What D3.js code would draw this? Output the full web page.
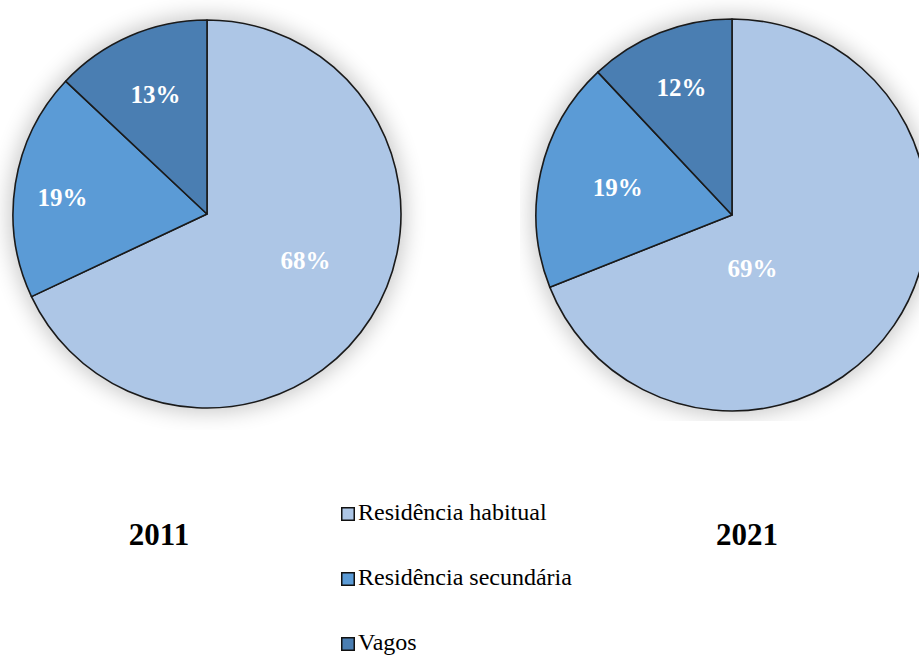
<!DOCTYPE html>
<html>
<head>
<meta charset="utf-8">
<script src="https://cdn.jsdelivr.net/npm/d3@7"></script>
<style>
  html, body { margin: 0; padding: 0; background: #ffffff; }
  svg { display: block; }
</style>
</head>
<body>
<svg id="chart" width="919" height="657"></svg>
<script>
// Dwelling types (share of dwellings, %)
const categories = ["Residência habitual", "Residência secundária", "Vagos"];
const years = ["2011", "2021"];
const values2011 = [68, 19, 13];
const values2021 = [69, 19, 12];
const colors = ["#adc6e6", "#5b9bd6", "#4a7eb2"];

const serif = '"Liberation Serif", "Times New Roman", serif';

const svg = d3.select("#chart");
const defs = svg.append("defs");

const glow = defs.append("filter").attr("id", "glow")
  .attr("x", "-30%").attr("y", "-30%").attr("width", "160%").attr("height", "160%");
glow.append("feGaussianBlur").attr("stdDeviation", 11);

// Layout of each pie panel; labelSpots = [position within slice, radius fraction]
const panels = [
  { year: years[0], values: values2011, cx: 207, cy: 214, r: 194,
    clip: [0, 0, 436, 430], titleX: 159,
    labelSpots: [[0.47, 0.56], [0.466, 0.75], [0.5, 0.67]] },
  { year: years[1], values: values2021, cx: 732, cy: 215, r: 196,
    clip: [520, 0, 399, 421], titleX: 747,
    labelSpots: [[0.64, 0.29], [0.516, 0.6], [0.5, 0.7]] }
];

const pie = d3.pie().sort(null).value(d => d);

panels.forEach((p, i) => {
  const clipId = "clip" + i;
  defs.append("clipPath").attr("id", clipId)
    .append("rect")
    .attr("x", p.clip[0]).attr("y", p.clip[1])
    .attr("width", p.clip[2]).attr("height", p.clip[3]);

  // soft halo behind the pie
  svg.append("g").attr("clip-path", `url(#${clipId})`)
    .append("circle")
    .attr("cx", p.cx).attr("cy", p.cy).attr("r", p.r + 4)
    .attr("fill", "#000").attr("opacity", 0.22)
    .attr("filter", "url(#glow)");

  const g = svg.append("g").attr("transform", `translate(${p.cx},${p.cy})`);
  const arc = d3.arc().innerRadius(0).outerRadius(p.r);
  const arcs = pie(p.values);

  g.selectAll("path").data(arcs).join("path")
    .attr("d", arc)
    .attr("fill", (d, j) => colors[j])
    .attr("stroke", "#1a1a1a")
    .attr("stroke-width", 1.6)
    .attr("stroke-linejoin", "round");

  g.selectAll("text").data(arcs).join("text")
    .attr("transform", (d, j) => {
      const [frac, rad] = p.labelSpots[j];
      const a = d.startAngle + (d.endAngle - d.startAngle) * frac;
      const rr = rad * p.r;
      return `translate(${Math.sin(a) * rr},${-Math.cos(a) * rr})`;
    })
    .attr("text-anchor", "middle")
    .attr("dy", "0.35em")
    .attr("fill", "#ffffff")
    .style("font-family", serif)
    .style("font-weight", "bold")
    .style("font-size", "25px")
    .text(d => d.data + "%");

  svg.append("text")
    .attr("x", p.titleX).attr("y", 545)
    .attr("text-anchor", "middle")
    .style("font-family", serif)
    .style("font-weight", "bold")
    .style("font-size", "31px")
    .attr("fill", "#000")
    .text(p.year);
});

// Legend
const legendY = d3.scalePoint().domain(categories).range([520, 650]);
const items = svg.append("g").selectAll("g").data(categories).join("g")
  .attr("transform", d => `translate(341,${legendY(d)})`);
items.append("rect")
  .attr("x", 0.75).attr("y", -12.25)
  .attr("width", 12.5).attr("height", 12.5)
  .attr("fill", (d, j) => colors[j])
  .attr("stroke", "#111").attr("stroke-width", 1.5);
items.append("text")
  .attr("x", 17).attr("y", 0)
  .style("font-family", serif)
  .style("font-size", "24px")
  .attr("fill", "#000")
  .text(d => d);
</script>
</body>
</html>
